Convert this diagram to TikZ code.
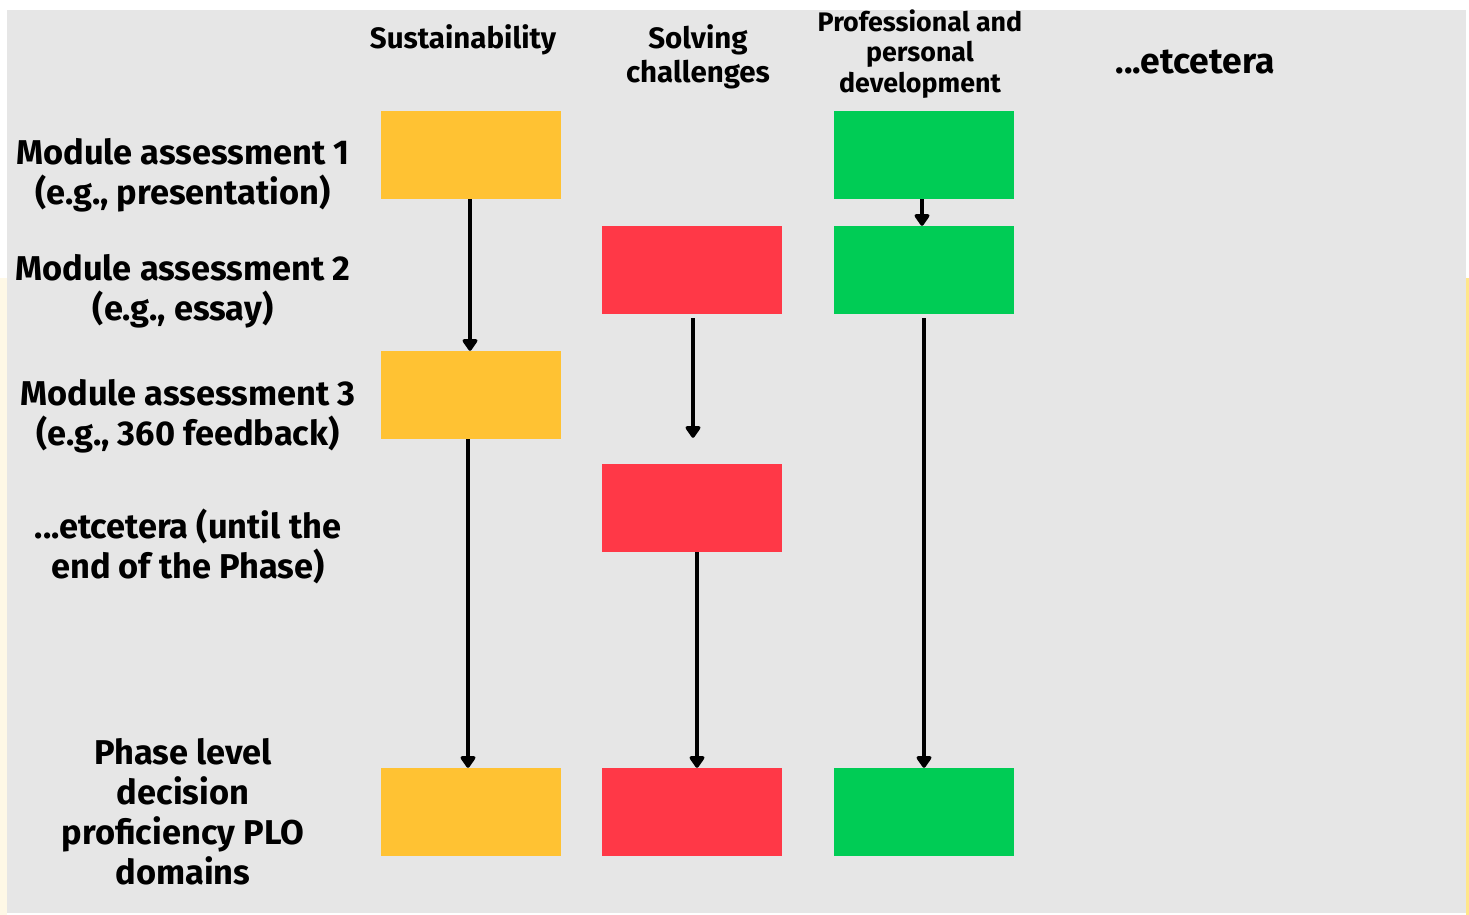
\documentclass[tikz,border=0pt]{standalone}
\usepackage{fontspec}
\setmainfont{Fira Sans}
\usetikzlibrary{arrows.meta}
\definecolor{bg}{HTML}{E6E6E6}
\definecolor{cyel}{HTML}{FFC233}
\definecolor{cred}{HTML}{FF3847}
\definecolor{cgrn}{HTML}{00CC55}
\definecolor{cream}{HTML}{FEF8E6}
\definecolor{ystrip}{HTML}{FFE68A}
\tikzset{
  box/.style={rectangle, minimum width=180pt, minimum height=88pt, inner sep=0pt, draw=none},
  lab/.style={align=center, inner sep=0pt, font=\fontsize{34.4}{40}\selectfont\bfseries},
  head/.style={align=center, inner sep=0pt, font=\fontsize{29.5}{34}\selectfont\bfseries},
  headsm/.style={align=center, inner sep=0pt, font=\fontsize{26.8}{30.5}\selectfont\bfseries},
  headlg/.style={align=center, inner sep=0pt, font=\fontsize{35.5}{40}\selectfont\bfseries},
  conn/.style={line width=3.4pt, -{Triangle[length=13pt,width=17pt,round]}},
}
\begin{document}
\begin{tikzpicture}[x=1pt,y=-1pt]
\useasboundingbox (0,0) rectangle (1469,915);
\fill[white] (0,0) rectangle (1469,915);
\fill[cream] (0,278) rectangle (7,915);
\fill[ystrip] (1466,278) rectangle (1469,915);
\fill[bg] (7,10) rectangle (1466,913);
% boxes
\node[box, fill=cyel] (y1) at (471,155) {};
\node[box, fill=cyel] (y3) at (471,395) {};
\node[box, fill=cyel] (yf) at (471,812) {};
\node[box, fill=cred] (r2) at (692,270) {};
\node[box, fill=cred] (r4) at (692,508) {};
\node[box, fill=cred] (rf) at (692,812) {};
\node[box, fill=cgrn] (g1) at (924,155) {};
\node[box, fill=cgrn] (g2) at (924,270) {};
\node[box, fill=cgrn] (gf) at (924,812) {};
% headers
\node[head] (h1) at (463,40) {Sustainability};
\node[head] (h2) at (698,57) {Solving\\challenges};
\node[headsm] (h3) at (920,54) {Professional and\\personal\\development};
\node[headlg] (h4) at (1195,62) {...etcetera};
% row labels
\node[lab] (l1) at (183,175) {Module assessment 1\\(e.g., presentation)};
\node[lab] (l2) at (183,291) {Module assessment 2\\(e.g., essay)};
\node[lab] (l3) at (188,416) {Module assessment 3\\(e.g., 360 feedback)};
\node[lab] (l4) at (188,546) {...etcetera (until the\\end of the Phase)};
\node[lab] (l5) at (183,812) {Phase level\\decision\\proficiency PLO\\domains};
% connectors
\draw[conn] ([xshift=-1pt]y1.south) -- ([xshift=-1pt]y3.north);
\draw[conn] ([xshift=-3pt]y3.south) -- ([xshift=-3pt]yf.north);
\draw[conn, shorten <=4pt, shorten >=26pt] ([xshift=1pt]r2.south) -- ([xshift=1pt]r4.north);
\draw[conn] ([xshift=5pt]r4.south) -- ([xshift=5pt]rf.north);
\draw[conn] ([xshift=-2pt]g1.south) -- ([xshift=-2pt]g2.north);
\draw[conn, shorten <=4pt] (g2.south) -- (gf.north);
\end{tikzpicture}
\end{document}
